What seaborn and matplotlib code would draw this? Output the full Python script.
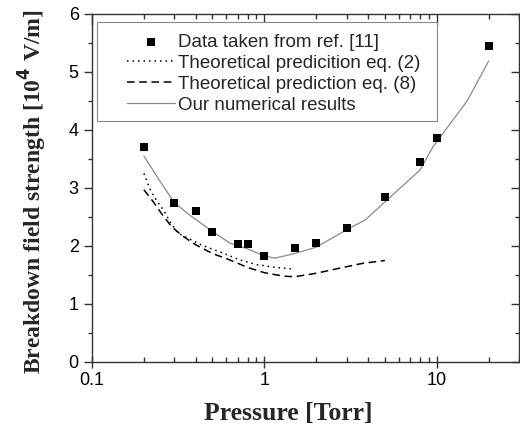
import matplotlib
matplotlib.use("Agg")
import matplotlib.pyplot as plt
from matplotlib.patches import Rectangle
from matplotlib.ticker import LogLocator, FixedLocator, NullFormatter, FuncFormatter
import numpy as np
import pandas as pd
import seaborn as sns

# Measured breakdown field (ref. [11])
p_data = [0.2, 0.3, 0.4, 0.5, 0.7, 0.8, 1.0, 1.5, 2.0, 3.0, 5.0, 8.0, 10.0, 20.0]
e_data = [3.71, 2.75, 2.61, 2.24, 2.03, 2.03, 1.83, 1.96, 2.05, 2.31, 2.84, 3.45, 3.86, 5.45]

# Theoretical prediction, eq. (2)
p_eq2 = [0.2, 0.22, 0.24, 0.26, 0.283, 0.316, 0.38, 0.43, 0.55, 0.72, 0.9, 1.17, 1.5]
e_eq2 = [3.25, 2.94, 2.76, 2.62, 2.42, 2.22, 2.10, 2.02, 1.90, 1.76, 1.68, 1.63, 1.60]

# Theoretical prediction, eq. (8)
p_eq8 = [0.2, 0.227, 0.253, 0.29, 0.34, 0.40, 0.50, 0.63, 0.8, 1.0, 1.29, 1.5, 2.0, 2.75, 3.7, 5.0]
e_eq8 = [2.97, 2.76, 2.56, 2.33, 2.16, 2.02, 1.87, 1.76, 1.63, 1.54, 1.48, 1.47, 1.53, 1.62, 1.70, 1.75]

# Numerical results
p_num = [0.2, 0.25, 0.3, 0.37, 0.5, 0.63, 0.8, 1.0, 1.15, 1.5, 2.0, 3.0, 3.85, 5.0, 8.0, 9.5, 15.0, 20.0]
e_num = [3.55, 3.10, 2.75, 2.53, 2.25, 2.05, 1.95, 1.83, 1.79, 1.87, 1.98, 2.28, 2.45, 2.76, 3.31, 3.71, 4.50, 5.19]

x_ticks = [0.1, 1, 10]
y_ticks = [0, 1, 2, 3, 4, 5, 6]

sns.set_style("ticks")
plt.rcParams["font.family"] = ["Liberation Sans", "DejaVu Sans"]

fig = plt.figure(figsize=(5.2, 4.32), dpi=100)
ax = fig.add_axes([92 / 520, 1 - 362 / 432, 427 / 520, 348 / 432])

df_data = pd.DataFrame({"p": p_data, "e": e_data})
df_eq2 = pd.DataFrame({"p": p_eq2, "e": e_eq2})
df_eq8 = pd.DataFrame({"p": p_eq8, "e": e_eq8})
df_num = pd.DataFrame({"p": p_num, "e": e_num})

sns.scatterplot(data=df_data, x="p", y="e", ax=ax, marker="s", s=32,
                color="black", edgecolor="black", linewidth=0,
                label="Data taken from ref. [11]", zorder=4)
sns.lineplot(data=df_eq2, x="p", y="e", ax=ax, color="black", lw=1.1,
             linestyle=(0, (1, 2.6)), label="Theoretical predicition eq. (2)",
             sort=False)
sns.lineplot(data=df_eq8, x="p", y="e", ax=ax, color="black", lw=1.1,
             linestyle=(0, (5, 3)), label="Theoretical prediction eq. (8)",
             sort=False)
sns.lineplot(data=df_num, x="p", y="e", ax=ax, color="#8a8a8a", lw=0.9,
             label="Our numerical results", sort=False)

ax.set_xscale("log")
ax.set_xlim(0.1, 30)
ax.set_ylim(0, 6)

ax.xaxis.set_major_locator(FixedLocator(x_ticks))
ax.xaxis.set_major_formatter(FuncFormatter(lambda v, _: f"{v:g}"))
ax.xaxis.set_minor_locator(LogLocator(base=10, subs=np.arange(2, 10)))
ax.xaxis.set_minor_formatter(NullFormatter())
ax.yaxis.set_major_locator(FixedLocator(y_ticks))
ax.yaxis.set_minor_locator(FixedLocator(np.arange(0.5, 6, 1.0)))

for side in ["left", "bottom", "top", "right"]:
    ax.spines[side].set_visible(True)
    ax.spines[side].set_color("#333333")
    ax.spines[side].set_linewidth(1.0)

ax.tick_params(axis="both", which="both", top=True, right=True,
               colors="#333333", labelcolor="black", labelsize=13)
ax.tick_params(axis="y", which="major", direction="out", length=6, width=1)
ax.tick_params(axis="y", which="minor", direction="out", length=3, width=1)
ax.tick_params(axis="x", which="major", direction="inout", length=8, width=1)
ax.tick_params(axis="x", which="minor", direction="in", length=3.5, width=1)

# Top and right ticks point inward
for t in ax.xaxis.get_major_ticks() + ax.xaxis.get_minor_ticks():
    t.tick2line.set_marker(3)
for t in ax.yaxis.get_major_ticks() + ax.yaxis.get_minor_ticks():
    t.tick2line.set_marker(0)

ax.set_xlabel("Pressure [Torr]", fontsize=18.5, fontweight="bold",
              family="Liberation Serif")
ax.set_ylabel(r"Breakdown field strength [10$^\mathbf{4}$ V/m]", fontsize=17,
              fontweight="bold", family="Liberation Serif")
ax.xaxis.set_label_coords(0.459, -0.115)
ax.yaxis.set_label_coords(-0.101, 0.49)

# Legend frame drawn separately, legend entries placed inside it
ax.add_patch(Rectangle((0.0117, 0.6925), 0.796, 0.2845, transform=ax.transAxes,
                       facecolor="white", edgecolor="#888888", lw=0.8, zorder=5))
leg = ax.legend(loc="upper left", bbox_to_anchor=(0.082, 0.943), frameon=False,
                fontsize=13.5, labelspacing=0.2, handlelength=2.55,
                handletextpad=0.15, borderpad=0, borderaxespad=0)
leg.set_zorder(6)

fig.savefig("out.png", dpi=100)
